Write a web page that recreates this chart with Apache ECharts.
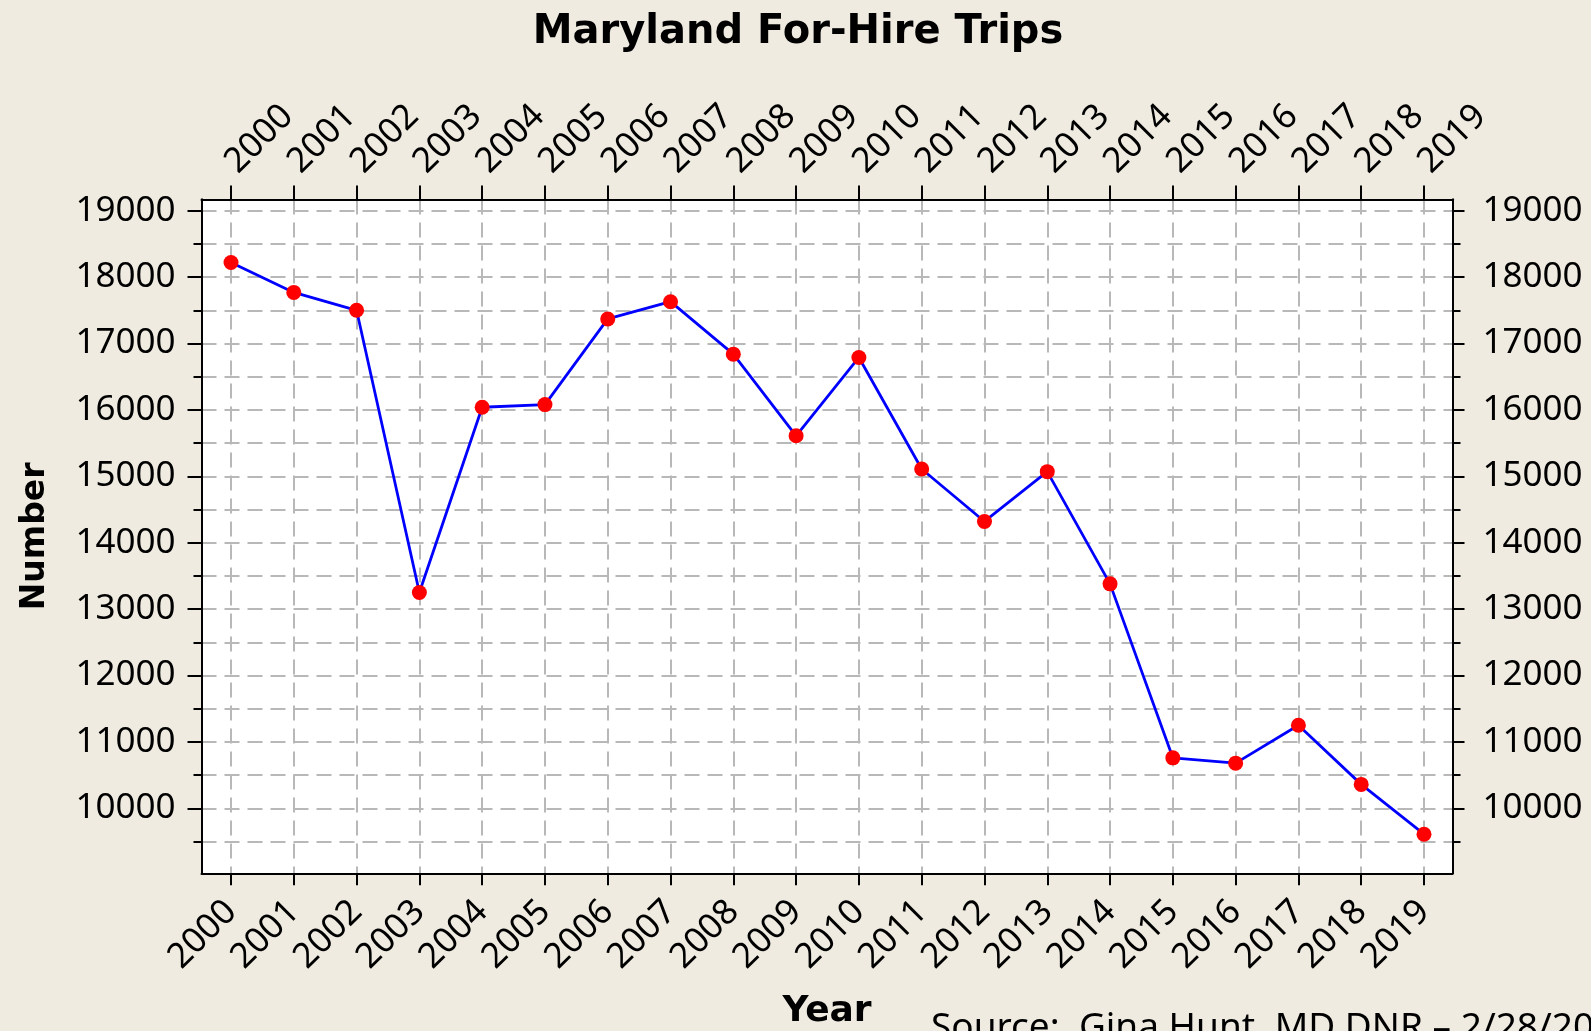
<!DOCTYPE html>
<html>
<head>
<meta charset="utf-8">
<title>Maryland For-Hire Trips</title>
<script src="https://cdn.jsdelivr.net/npm/echarts@6/dist/echarts.min.js"></script>
<style>
  html, body { margin: 0; padding: 0; background: #efebe1; }
  #chart { width: 1591px; height: 1031px; }
</style>
</head>
<body>
<div id="chart"></div>
<script>
const years = [2000, 2001, 2002, 2003, 2004, 2005, 2006, 2007, 2008, 2009,
  2010, 2011, 2012, 2013, 2014, 2015, 2016, 2017, 2018, 2019];
const trips = [18220, 17770, 17500, 13250, 16040, 16080, 17370, 17630, 16840, 15610,
  16790, 15110, 14320, 15070, 13380, 10760, 10680, 11250, 10360, 9610];
const majorTicks = [10000, 11000, 12000, 13000, 14000, 15000, 16000, 17000, 18000, 19000];
const minorTicks = [9500, 10500, 11500, 12500, 13500, 14500, 15500, 16500, 17500, 18500];

const chart = echarts.init(document.getElementById("chart"));

const black = "#000000";
const gridLine = { show: true, lineStyle: { color: "#b8b8b8", width: 2, type: [15, 8] } };
const tickFont = { fontFamily: "Noto Sans", fontSize: 35, color: black };
const nameFont = { fontFamily: "DejaVu Sans", fontWeight: "bold", color: black };

const xRange = { min: 1999.53, max: 2019.454 };
const yRange = { min: 9021, max: 19169 };

const makeX = (position, tickLen, rotate, margin, withGrid) => ({
  type: "value",
  position,
  ...xRange,
  axisLine: { show: true, onZero: false, lineStyle: { color: black, width: 2 } },
  axisTick: { show: true, customValues: years, length: tickLen, lineStyle: { color: black, width: 2 } },
  axisLabel: {
    show: true,
    customValues: years,
    rotate,
    margin,
    ...tickFont,
    formatter: (v) => String(v),
  },
  splitLine: withGrid ? gridLine : { show: false },
});

const makeY = (position, ticks, tickLen, labels, margin, withGrid) => ({
  type: "value",
  position,
  ...yRange,
  axisLine: { show: true, onZero: false, lineStyle: { color: black, width: 2 } },
  axisTick: { show: true, customValues: ticks, length: tickLen, lineStyle: { color: black, width: 2 } },
  axisLabel: labels
    ? { show: true, customValues: ticks, margin, ...tickFont, formatter: (v) => String(v) }
    : { show: false },
  splitLine: withGrid ? gridLine : { show: false },
});

const xBottom = makeX("bottom", 12, 45, 33, true);
xBottom.name = "Year";
xBottom.nameLocation = "middle";
xBottom.nameGap = 120;
xBottom.nameMoveOverlap = false;
xBottom.nameTextStyle = { ...nameFont, fontSize: 36 };

const yLeft = makeY("left", majorTicks, 14, true, 26, true);
yLeft.name = "Number";
yLeft.nameLocation = "middle";
yLeft.nameGap = 150;
yLeft.nameMoveOverlap = false;
yLeft.nameTextStyle = { ...nameFont, fontSize: 33 };

const option = {
  backgroundColor: "#efebe1",
  animation: false,
  grid: {
    left: 201.5,
    right: 138.5,
    top: 199.5,
    bottom: 157.7,
    show: true,
    backgroundColor: "#ffffff",
    borderWidth: 0,
    outerBoundsMode: "none",
  },
  xAxis: [xBottom, makeX("top", 14, -45, 32, false)],
  yAxis: [
    yLeft,
    makeY("left", minorTicks, 8, false, 0, true),
    makeY("right", majorTicks, 12, true, 30, false),
    makeY("right", minorTicks, 8, false, 0, false),
  ],
  graphic: [
    {
      type: "text",
      x: 798,
      y: 33,
      style: {
        text: "Maryland For-Hire Trips",
        font: 'bold 40px "DejaVu Sans"',
        fill: black,
        align: "center",
        verticalAlign: "middle",
      },
    },
    {
      type: "text",
      x: 931,
      y: 1010,
      style: {
        text: "Source:  Gina Hunt, MD DNR \u2013 2/28/2020",
        font: '37px "Noto Sans"',
        fill: black,
        align: "left",
        verticalAlign: "top",
      },
    },
  ],
  series: [
    {
      type: "line",
      data: years.map((y, i) => [y, trips[i]]),
      xAxisIndex: 0,
      yAxisIndex: 0,
      symbol: "circle",
      symbolSize: 15,
      itemStyle: { color: "#ff0000" },
      lineStyle: { color: "#0000ff", width: 2.8 },
      z: 5,
    },
  ],
};

chart.setOption(option);
</script>
</body>
</html>
